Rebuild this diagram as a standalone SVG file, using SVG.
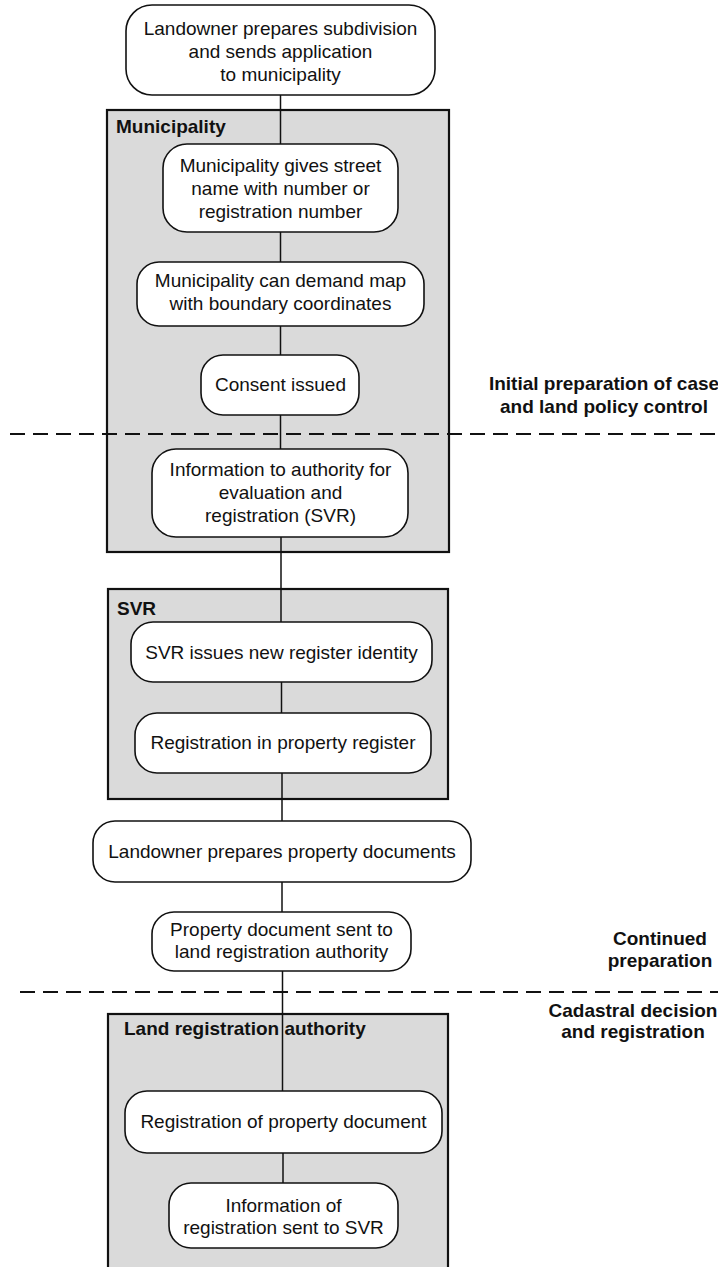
<svg xmlns="http://www.w3.org/2000/svg" width="718" height="1267" viewBox="0 0 718 1267">
  <style>
    text { font-family: "Liberation Sans", Arial, sans-serif; font-size: 19px; fill: #111; }
    .t { text-anchor: middle; }
    .b { font-weight: bold; }
    .node { fill: #fff; stroke: #111; stroke-width: 1.6; }
    .lane { fill: #dadada; stroke: #111; stroke-width: 2.2; }
    .conn { stroke: #111; stroke-width: 1.5; fill: none; }
    .phase { stroke: #111; stroke-width: 2; stroke-dasharray: 15 8; fill: none; }
  </style>

  <!-- organisation lanes -->
  <g id="lane-municipality">
    <rect class="lane" x="107" y="110" width="342" height="442"/>
    <text class="b" x="116" y="133">Municipality</text>
  </g>
  <g id="lane-svr">
    <rect class="lane" x="108" y="589" width="340" height="210"/>
    <text class="b" x="117" y="615">SVR</text>
  </g>
  <g id="lane-lra">
    <rect class="lane" x="108" y="1014" width="340" height="270"/>
    <text class="b" x="124" y="1035">Land registration authority</text>
  </g>

  <!-- phase boundaries -->
  <g id="phases">
    <line class="phase" x1="10" y1="434" x2="718" y2="434"/>
    <line class="phase" x1="20" y1="992" x2="718" y2="992"/>
    <text class="b t" x="604" y="390">Initial preparation of case</text>
    <text class="b t" x="604" y="413">and land policy control</text>
    <text class="b t" x="660" y="945">Continued</text>
    <text class="b t" x="660" y="967">preparation</text>
    <text class="b t" x="633" y="1017">Cadastral decision</text>
    <text class="b t" x="633" y="1038">and registration</text>
  </g>

  <!-- connectors -->
  <g id="connectors">
    <line class="conn" x1="280.5" y1="95" x2="280.5" y2="144"/>
    <line class="conn" x1="280.5" y1="232" x2="280.5" y2="262"/>
    <line class="conn" x1="280.5" y1="326" x2="280.5" y2="355"/>
    <line class="conn" x1="280.5" y1="415" x2="280.5" y2="449"/>
    <line class="conn" x1="281" y1="537" x2="281" y2="622"/>
    <line class="conn" x1="281.5" y1="682" x2="281.5" y2="713"/>
    <line class="conn" x1="282" y1="773" x2="282" y2="821"/>
    <line class="conn" x1="282" y1="882" x2="282" y2="912"/>
    <line class="conn" x1="282.5" y1="971" x2="282.5" y2="1091"/>
    <line class="conn" x1="283" y1="1153" x2="283" y2="1183"/>
  </g>

  <!-- process steps -->
  <g id="n-application">
    <rect class="node" x="126" y="5" width="309" height="90" rx="26"/>
    <text class="t" x="280.5" y="35">Landowner prepares subdivision</text>
    <text class="t" x="280.5" y="58">and sends application</text>
    <text class="t" x="280.5" y="81">to municipality</text>
  </g>
  <g id="n-street-name">
    <rect class="node" x="163" y="144" width="235" height="88" rx="24"/>
    <text class="t" x="280.5" y="172">Municipality gives street</text>
    <text class="t" x="280.5" y="195">name with number or</text>
    <text class="t" x="280.5" y="218">registration number</text>
  </g>
  <g id="n-demand-map">
    <rect class="node" x="137" y="262" width="287" height="64" rx="22"/>
    <text class="t" x="280.5" y="287">Municipality can demand map</text>
    <text class="t" x="280.5" y="310">with boundary coordinates</text>
  </g>
  <g id="n-consent">
    <rect class="node" x="201" y="355" width="158" height="60" rx="22"/>
    <text class="t" x="280.5" y="391">Consent issued</text>
  </g>
  <g id="n-info-svr">
    <rect class="node" x="152" y="449" width="256" height="88" rx="24"/>
    <text class="t" x="280.5" y="476">Information to authority for</text>
    <text class="t" x="280.5" y="499">evaluation and</text>
    <text class="t" x="280.5" y="522">registration (SVR)</text>
  </g>
  <g id="n-register-identity">
    <rect class="node" x="131" y="622" width="301" height="60" rx="22"/>
    <text class="t" x="281.5" y="659">SVR issues new register identity</text>
  </g>
  <g id="n-property-register">
    <rect class="node" x="135" y="713" width="296" height="60" rx="22"/>
    <text class="t" x="283" y="749">Registration in property register</text>
  </g>
  <g id="n-property-documents">
    <rect class="node" x="93" y="821" width="378" height="61" rx="22"/>
    <text class="t" x="282" y="858">Landowner prepares property documents</text>
  </g>
  <g id="n-document-sent">
    <rect class="node" x="152" y="912" width="259" height="59" rx="22"/>
    <text class="t" x="281.5" y="936">Property document sent to</text>
    <text class="t" x="281.5" y="958">land registration authority</text>
  </g>
  <g id="n-register-document">
    <rect class="node" x="125" y="1091" width="317" height="62" rx="22"/>
    <text class="t" x="283.5" y="1128">Registration of property document</text>
  </g>
  <g id="n-notify-svr">
    <rect class="node" x="169" y="1183" width="229" height="65" rx="22"/>
    <text class="t" x="283.5" y="1212">Information of</text>
    <text class="t" x="283.5" y="1234">registration sent to SVR</text>
  </g>
</svg>
